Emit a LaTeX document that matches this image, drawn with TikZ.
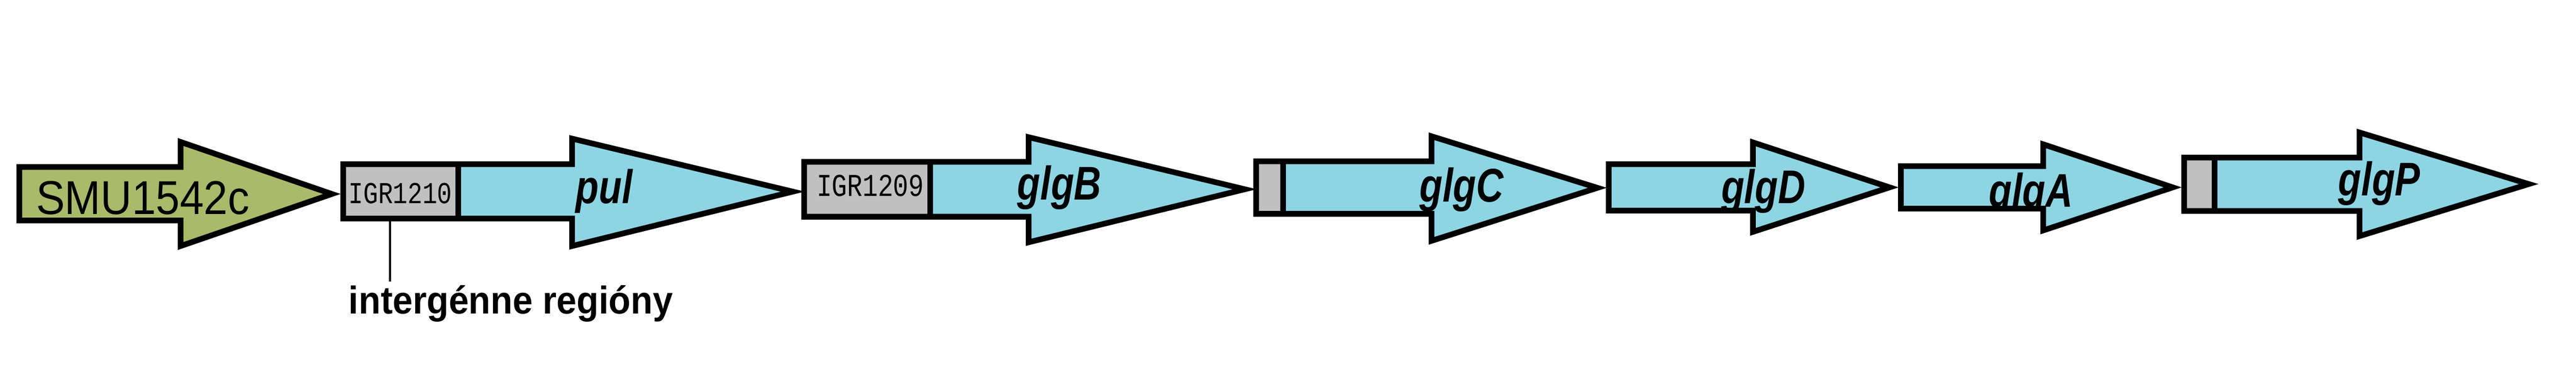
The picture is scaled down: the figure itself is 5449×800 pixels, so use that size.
\documentclass[tikz,border=0pt]{standalone}
\usepackage{fontspec}
\setmainfont{Liberation Sans}
\newfontfamily\monof{Liberation Mono}
\usepackage{graphicx}
\definecolor{geneblue}{RGB}{142,213,228}
\definecolor{geneolive}{RGB}{170,186,106}
\definecolor{igrgray}{RGB}{192,192,192}
% #1 L, #2 T, #3 Bottom, #4 head base, #5 head top, #6 head bottom, #7 tip, #8 centre
\newcommand\gshape[8]{(#1,#2) -- (#4,#2) -- (#4,#5) -- (#7,#8) -- (#4,#6) -- (#4,#3) -- (#1,#3) -- cycle}
\tikzset{
  outline/.style={draw=black, line width=1.2mm, line join=miter},
  divider/.style={draw=black, line width=1.2mm},
  genelabel/.style={anchor=base, inner sep=0pt, font=\fontsize{28.45pt}{30pt}\selectfont\bfseries\itshape},
  igrlabel/.style={anchor=base, inner sep=0pt},
  pointer/.style={draw=black, line width=0.4mm}
}
\newcommand\glab[1]{\scalebox{0.8}[1]{#1}}
\begin{document}
\begin{tikzpicture}[x=0.1mm,y=-0.1mm]
\useasboundingbox[fill=white] (0,0) rectangle (5449,800);

% SMU1542c
\fill[geneolive] \gshape{41}{353}{466}{382}{300}{520}{702}{410};
\node[igrlabel] (smu) at (302,453) {\resizebox{45.1mm}{7.0mm}{SMU1542c}};
\path[outline] \gshape{41}{353}{466}{382}{300}{520}{702}{410};

% IGR1210 + pul
\fill[geneblue] \gshape{726}{347}{462}{1210}{293}{520}{1677}{405};
\fill[igrgray] (726,347) rectangle (969,462);
\node[igrlabel] (igrA) at (847,430) {\resizebox{21.9mm}{4.3mm}{\monof IGR1210}};
\begin{scope}
\clip \gshape{726}{347}{462}{1210}{293}{520}{1677}{405};
\node[genelabel] (pul) at (1278,430) {\glab{pul}};
\end{scope}
\path[outline] \gshape{726}{347}{462}{1210}{293}{520}{1677}{405};
\path[divider] (969,347) -- (969,462);

% IGR1209 + glgB
\fill[geneblue] \gshape{1701}{342}{458}{2176}{290}{512}{2633}{400};
\fill[igrgray] (1701,342) rectangle (1968,458);
\node[igrlabel] (igrB) at (1841,415) {\resizebox{22.7mm}{4.5mm}{\monof IGR1209}};
\begin{scope}
\clip \gshape{1701}{342}{458}{2176}{290}{512}{2633}{400};
\node[genelabel] (glgB) at (2241,422) {\glab{glgB}};
\end{scope}
\path[outline] \gshape{1701}{342}{458}{2176}{290}{512}{2633}{400};
\path[divider] (1968,342) -- (1968,458);

% glgC
\fill[geneblue] \gshape{2657}{341}{452}{3028}{288}{509}{3379}{397};
\fill[igrgray] (2657,341) rectangle (2714,452);
\begin{scope}
\clip \gshape{2657}{341}{452}{3028}{288}{509}{3379}{397};
\node[genelabel] (glgC) at (3092,427) {\glab{glgC}};
\end{scope}
\path[outline] \gshape{2657}{341}{452}{3028}{288}{509}{3379}{397};
\path[divider] (2714,341) -- (2714,452);

% glgD
\fill[geneblue] \gshape{3403}{347}{445}{3708}{301}{490}{3997}{396};
\begin{scope}
\clip \gshape{3403}{347}{445}{3708}{301}{490}{3997}{396};
\node[genelabel] (glgD) at (3730,430) {\glab{glgD}};
\end{scope}
\path[outline] \gshape{3403}{347}{445}{3708}{301}{490}{3997}{396};

% glgA
\fill[geneblue] \gshape{4021}{351}{441}{4322}{305}{487}{4596}{396};
\begin{scope}
\clip \gshape{4021}{351}{441}{4322}{305}{487}{4596}{396};
\node[genelabel] (glgA) at (4296,438) {\glab{glgA}};
\end{scope}
\path[outline] \gshape{4021}{351}{441}{4322}{305}{487}{4596}{396};

% glgP
\fill[geneblue] \gshape{4620}{333}{446}{4991}{280}{499}{5349}{389};
\fill[igrgray] (4620,333) rectangle (4684,446);
\begin{scope}
\clip \gshape{4620}{333}{446}{4991}{280}{499}{5349}{389};
\node[genelabel] (glgP) at (5033,414) {\glab{glgP}};
\end{scope}
\path[outline] \gshape{4620}{333}{446}{4991}{280}{499}{5349}{389};
\path[divider] (4684,333) -- (4684,446);

% pointer to intergenic regions
\coordinate (lnA) at (825,468);
\coordinate (lnB) at (825,595);
\draw[pointer] (lnA) -- (lnB);
\node[anchor=base west, inner sep=0pt, font=\fontsize{23.3pt}{26pt}\selectfont\bfseries] (igrtext) at (737,663) {\scalebox{0.93}[1]{intergénne regióny}};
\end{tikzpicture}
\end{document}
